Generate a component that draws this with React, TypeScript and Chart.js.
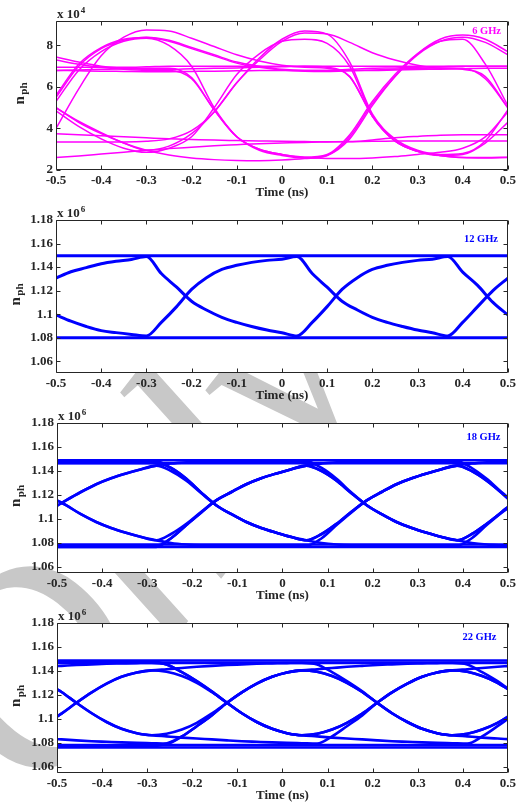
import React, { useEffect, useRef } from "react";
import { Chart, registerables } from "chart.js";

Chart.register(...registerables);

const SERIF = "'Liberation Serif', 'Times New Roman', Times, serif";
const INK = "#262626";
const MAGENTA = "#ff00ff";
const BLUE = "#0000ff";
const WATERMARK_GRAY = "#c8c8c8";
const WATERMARK_TEXT = "Only";

// ---- axes ----
const TIME_MIN = -0.5;
const TIME_MAX = 0.5;
const TIME_TICKS = [-0.5, -0.4, -0.3, -0.2, -0.1, 0, 0.1, 0.2, 0.3, 0.4, 0.5];
const NPH_TICKS_6GHZ = [2, 4, 6, 8];
const NPH_TICKS = [1.06, 1.08, 1.1, 1.12, 1.14, 1.16, 1.18];

// ---- 6 GHz eye: n_ph (x 1e4), sampled every 0.05 ns ----
const T_6 = [-0.5, -0.45, -0.4, -0.35, -0.3, -0.25, -0.2, -0.15, -0.1, -0.05, 0, 0.05, 0.1, 0.15, 0.2, 0.25, 0.3, 0.35, 0.4, 0.45, 0.5];
const N6_01 = [7.45, 7.2, 7.0, 6.9, 6.85, 6.85, 6.88, 6.9, 6.92, 6.95, 6.97, 7.0, 7.0, 7.0, 7.0, 7.0, 7.0, 7.0, 7.0, 7.0, 7.0];
const N6_02 = [7.3, 7.1, 6.95, 6.85, 6.8, 6.8, 6.4, 4.9, 3.6, 3.0, 2.75, 2.62, 2.75, 3.7, 5.3, 6.6, 7.6, 8.2, 8.3, 7.1, 5.1];
const N6_03 = [6.95, 6.95, 6.95, 6.95, 6.97, 7.0, 7.0, 7.0, 7.0, 7.0, 7.0, 7.0, 6.95, 6.5, 4.6, 3.4, 2.9, 2.7, 2.6, 2.58, 2.6];
const N6_04 = [6.8, 6.78, 6.76, 6.75, 6.74, 6.74, 6.75, 6.76, 6.78, 6.8, 6.8, 6.8, 6.8, 6.8, 6.8, 6.82, 6.84, 6.86, 6.88, 6.9, 6.9];
const N6_05 = [5.5, 7.0, 7.85, 8.25, 8.4, 8.25, 7.9, 7.55, 7.2, 7.0, 6.85, 6.8, 6.8, 6.85, 6.9, 6.92, 6.95, 6.97, 7.0, 7.0, 7.0];
const N6_06 = [5.3, 6.8, 7.7, 8.2, 8.35, 8.0, 7.0, 5.0, 3.6, 2.95, 2.7, 2.58, 2.7, 3.6, 5.2, 6.5, 7.55, 8.2, 8.4, 8.15, 7.55];
const N6_07 = [4.0, 5.9, 7.5, 8.4, 8.75, 8.7, 8.35, 7.95, 7.55, 7.25, 7.05, 6.95, 6.9, 6.5, 4.6, 3.4, 2.9, 2.7, 2.75, 3.3, 4.3];
const N6_08 = [5.0, 4.3, 3.75, 3.3, 2.95, 3.15, 3.75, 4.8, 6.2, 7.3, 8.2, 8.6, 8.55, 8.15, 7.65, 7.3, 7.05, 6.9, 6.85, 6.5, 5.0];
const N6_09 = [4.85, 4.1, 3.5, 3.05, 2.85, 3.05, 3.6, 5.0, 6.6, 7.6, 8.2, 8.3, 8.1, 7.0, 4.6, 3.4, 2.9, 2.7, 2.6, 2.6, 2.62];
const N6_10 = [5.0, 4.35, 3.8, 3.3, 2.95, 2.72, 2.58, 2.5, 2.46, 2.45, 2.48, 2.55, 2.7, 3.5, 5.1, 6.5, 7.6, 8.3, 8.5, 8.3, 7.7];
const N6_11 = [2.6, 2.68, 2.77, 2.86, 2.95, 3.03, 3.1, 3.17, 3.22, 3.27, 3.3, 3.33, 3.35, 3.37, 3.38, 3.4, 3.4, 3.4, 3.4, 3.4, 3.4];
const N6_12 = [3.75, 3.7, 3.65, 3.6, 3.55, 3.5, 3.47, 3.44, 3.42, 3.4, 3.38, 3.37, 3.36, 3.36, 3.45, 3.55, 3.62, 3.68, 3.7, 3.7, 3.7];
const N6_13 = [3.35, 3.35, 3.35, 3.35, 3.38, 3.5, 3.9, 4.8, 6.2, 7.4, 8.3, 8.7, 8.55, 7.2, 4.7, 3.5, 2.95, 2.75, 2.8, 3.4, 4.9];
const N6_14 = [5.6, 7.1, 7.9, 8.3, 8.38, 8.2, 7.85, 7.5, 7.15, 6.95, 6.82, 6.76, 6.75, 6.78, 6.82, 6.86, 6.9, 6.92, 6.9, 6.4, 5.0];
const N6_15 = [6.8, 6.82, 6.85, 6.88, 6.9, 6.9, 6.45, 4.9, 3.6, 3.0, 2.75, 2.62, 2.56, 2.55, 2.58, 2.65, 2.75, 2.85, 3.05, 3.6, 4.8];

// ---- 12 GHz eye: n_ph (x 1e6) ----
const T_12 = [-0.5, -0.467, -0.433, -0.4, -0.367, -0.333, -0.3, -0.267, -0.233, -0.2, -0.167, -0.133, -0.1, -0.067, -0.033, 0, 0.033, 0.067, 0.1, 0.133, 0.167, 0.2, 0.233, 0.267, 0.3, 0.333, 0.367, 0.4, 0.433, 0.467, 0.5];
const N12_A = [1.1306, 1.136, 1.1395, 1.1429, 1.145, 1.1465, 1.149, 1.1345, 1.1229, 1.111, 1.1035, 1.0973, 1.093, 1.0895, 1.0865, 1.0842, 1.0815, 1.093, 1.1064, 1.121, 1.131, 1.138, 1.1415, 1.144, 1.1457, 1.1467, 1.149, 1.1357, 1.1244, 1.11, 1.0993];
const N12_B = [1.0993, 1.094, 1.0895, 1.086, 1.0843, 1.0828, 1.0815, 1.093, 1.1064, 1.121, 1.131, 1.138, 1.1415, 1.144, 1.1457, 1.1467, 1.149, 1.1345, 1.1229, 1.111, 1.1035, 1.0973, 1.093, 1.0895, 1.0865, 1.0842, 1.0815, 1.093, 1.1064, 1.12, 1.1306];
const LEVELS_12 = [1.1497, 1.08];

// ---- 18 GHz eye: n_ph (x 1e6) ----
const T_18 = [-0.5, -0.48, -0.447, -0.413, -0.38, -0.347, -0.313, -0.28, -0.247, -0.213, -0.18, -0.147, -0.113, -0.08, -0.047, -0.013, 0.02, 0.053, 0.087, 0.12, 0.153, 0.187, 0.22, 0.253, 0.287, 0.32, 0.353, 0.387, 0.42, 0.453, 0.487, 0.5];
const N18_1 = [1.111, 1.1155, 1.1225, 1.129, 1.134, 1.138, 1.1415, 1.1445, 1.14, 1.132, 1.1215, 1.1115, 1.104, 1.0975, 1.0925, 1.0885, 1.085, 1.0823, 1.0875, 1.096, 1.106, 1.1155, 1.1225, 1.129, 1.134, 1.138, 1.1415, 1.1445, 1.14, 1.132, 1.1215, 1.117];
const N18_2 = [1.1155, 1.1115, 1.104, 1.0975, 1.0925, 1.0885, 1.085, 1.0823, 1.0875, 1.096, 1.106, 1.1155, 1.1225, 1.129, 1.134, 1.138, 1.1415, 1.1445, 1.14, 1.132, 1.1215, 1.1115, 1.104, 1.0975, 1.0925, 1.0885, 1.085, 1.0823, 1.0875, 1.096, 1.106, 1.11];
const N18_3 = [1.148, 1.148, 1.148, 1.148, 1.148, 1.148, 1.148, 1.148, 1.1425, 1.1335, 1.122, 1.1115, 1.104, 1.0975, 1.0925, 1.0885, 1.085, 1.0823, 1.08, 1.0787, 1.078, 1.0778, 1.0778, 1.0778, 1.0778, 1.0778, 1.0778, 1.0778, 1.084, 1.095, 1.1055, 1.109];
const N18_4 = [1.0775, 1.0775, 1.0775, 1.0775, 1.0775, 1.0775, 1.0775, 1.0775, 1.084, 1.095, 1.1055, 1.1155, 1.1225, 1.129, 1.134, 1.138, 1.1415, 1.1445, 1.1462, 1.1472, 1.1478, 1.148, 1.148, 1.148, 1.148, 1.148, 1.148, 1.148, 1.1425, 1.1335, 1.122, 1.118];
const N18_5 = [1.111, 1.1155, 1.1225, 1.129, 1.134, 1.138, 1.1415, 1.1445, 1.1462, 1.1472, 1.1478, 1.148, 1.148, 1.148, 1.148, 1.148, 1.148, 1.148, 1.1425, 1.1335, 1.122, 1.1115, 1.104, 1.0975, 1.0925, 1.0885, 1.085, 1.0823, 1.0875, 1.096, 1.106, 1.11];
const N18_6 = [1.1155, 1.1115, 1.104, 1.0975, 1.0925, 1.0885, 1.085, 1.0823, 1.08, 1.0787, 1.078, 1.0778, 1.0778, 1.0778, 1.0778, 1.0778, 1.0778, 1.0778, 1.084, 1.095, 1.1055, 1.1155, 1.1225, 1.129, 1.134, 1.138, 1.1415, 1.1445, 1.14, 1.132, 1.1215, 1.117];
const N18_7 = [1.1468, 1.1468, 1.1468, 1.1468, 1.1468, 1.1468, 1.1468, 1.1468, 1.1425, 1.1335, 1.122, 1.1115, 1.104, 1.0975, 1.0925, 1.0885, 1.085, 1.0823, 1.0875, 1.096, 1.106, 1.1155, 1.1225, 1.129, 1.134, 1.138, 1.1415, 1.1445, 1.1462, 1.1472, 1.1478, 1.148];
const N18_8 = [1.0768, 1.0768, 1.0768, 1.0768, 1.0768, 1.0768, 1.0768, 1.0768, 1.084, 1.095, 1.1055, 1.1155, 1.1225, 1.129, 1.134, 1.138, 1.1415, 1.1445, 1.14, 1.132, 1.1215, 1.1115, 1.104, 1.0975, 1.0925, 1.0885, 1.085, 1.0823, 1.08, 1.0787, 1.078, 1.0778];
const LEVELS_18 = [1.149, 1.1465, 1.0787, 1.0767];

// ---- 22 GHz eye: n_ph (x 1e6) ----
const T_22 = [-0.5, -0.49, -0.457, -0.423, -0.39, -0.357, -0.323, -0.29, -0.257, -0.223, -0.19, -0.157, -0.123, -0.09, -0.057, -0.023, 0.01, 0.043, 0.077, 0.11, 0.143, 0.177, 0.21, 0.243, 0.277, 0.31, 0.343, 0.377, 0.41, 0.443, 0.477, 0.5];
const N22_1 = [1.102, 1.1045, 1.1135, 1.1222, 1.1295, 1.1352, 1.1388, 1.1405, 1.1393, 1.1358, 1.1302, 1.1225, 1.1135, 1.1048, 1.0975, 1.0918, 1.0882, 1.0865, 1.0877, 1.0912, 1.0968, 1.1045, 1.1135, 1.1222, 1.1295, 1.1352, 1.1388, 1.1405, 1.1393, 1.1358, 1.1302, 1.1248];
const N22_2 = [1.1248, 1.1225, 1.1135, 1.1048, 1.0975, 1.0918, 1.0882, 1.0865, 1.0877, 1.0912, 1.0968, 1.1045, 1.1135, 1.1222, 1.1295, 1.1352, 1.1388, 1.1405, 1.1393, 1.1358, 1.1302, 1.1225, 1.1135, 1.1048, 1.0975, 1.0918, 1.0882, 1.0865, 1.0877, 1.0912, 1.0968, 1.102];
const N22_3 = [1.1478, 1.1478, 1.1478, 1.1478, 1.1478, 1.1478, 1.1478, 1.1478, 1.1455, 1.139, 1.1315, 1.123, 1.1135, 1.1048, 1.0975, 1.0918, 1.0882, 1.0865, 1.0855, 1.0845, 1.0837, 1.083, 1.0822, 1.0815, 1.081, 1.0805, 1.0801, 1.0798, 1.0795, 1.0855, 1.094, 1.1];
const N22_4 = [1.0772, 1.0772, 1.0772, 1.0772, 1.0772, 1.0772, 1.0772, 1.0772, 1.0795, 1.0855, 1.094, 1.103, 1.1135, 1.1222, 1.1295, 1.1352, 1.1388, 1.1405, 1.1415, 1.1425, 1.1435, 1.1443, 1.145, 1.1455, 1.146, 1.1463, 1.1466, 1.1468, 1.1455, 1.139, 1.1315, 1.1255];
const N22_5 = [1.102, 1.1045, 1.1135, 1.1222, 1.1295, 1.1352, 1.1388, 1.1405, 1.1415, 1.1425, 1.1435, 1.1443, 1.145, 1.1455, 1.146, 1.1463, 1.1466, 1.1468, 1.1455, 1.139, 1.1315, 1.123, 1.1135, 1.1048, 1.0975, 1.0918, 1.0882, 1.0865, 1.0877, 1.0912, 1.0968, 1.102];
const N22_6 = [1.1248, 1.1225, 1.1135, 1.1048, 1.0975, 1.0918, 1.0882, 1.0865, 1.0855, 1.0845, 1.0837, 1.083, 1.0822, 1.0815, 1.081, 1.0805, 1.0801, 1.0798, 1.0795, 1.0855, 1.094, 1.103, 1.1135, 1.1222, 1.1295, 1.1352, 1.1388, 1.1405, 1.1393, 1.1358, 1.1302, 1.1248];
const N22_7 = [1.1441, 1.1443, 1.145, 1.1455, 1.146, 1.1463, 1.1466, 1.1468, 1.1455, 1.139, 1.1315, 1.123, 1.1135, 1.1048, 1.0975, 1.0918, 1.0882, 1.0865, 1.0877, 1.0912, 1.0968, 1.1045, 1.1135, 1.1222, 1.1295, 1.1352, 1.1388, 1.1405, 1.1415, 1.1425, 1.1435, 1.1441];
const N22_8 = [1.0832, 1.083, 1.0822, 1.0815, 1.081, 1.0805, 1.0801, 1.0798, 1.0795, 1.0855, 1.094, 1.103, 1.1135, 1.1222, 1.1295, 1.1352, 1.1388, 1.1405, 1.1393, 1.1358, 1.1302, 1.1225, 1.1135, 1.1048, 1.0975, 1.0918, 1.0882, 1.0865, 1.0855, 1.0845, 1.0837, 1.0832];
const LEVELS_22 = [1.1488, 1.1468, 1.0782, 1.0762];

interface PanelSpec {
  key: string;
  top: number;
  height: number;
  padTop: number;
  axisWidth: number;
  yMin: number;
  yMax: number;
  yTicks: number[];
  exponent: string;
  tag: string;
  tagX: number;
  tagY: number;
  labelX: number;
  color: string;
  lineWidth: number;
  time: number[];
  traces: number[][];
  levels: number[];
}

const PANELS: PanelSpec[] = [
  {
    key: "6", top: 0, height: 200, padTop: 21, axisWidth: 56,
    yMin: 2, yMax: 9.18, yTicks: NPH_TICKS_6GHZ, exponent: "4",
    tag: "6 GHz", tagX: 501, tagY: 34, labelX: 23.5,
    color: MAGENTA, lineWidth: 1.5, time: T_6,
    traces: [N6_01, N6_02, N6_03, N6_04, N6_05, N6_06, N6_07, N6_08, N6_09, N6_10, N6_11, N6_12, N6_13, N6_14, N6_15],
    levels: [],
  },
  {
    key: "12", top: 200, height: 203, padTop: 20, axisWidth: 56,
    yMin: 1.05, yMax: 1.18, yTicks: NPH_TICKS, exponent: "6",
    tag: "12 GHz", tagX: 498, tagY: 41.5, labelX: 19.5,
    color: BLUE, lineWidth: 3, time: T_12,
    traces: [N12_A, N12_B], levels: LEVELS_12,
  },
  {
    key: "18", top: 403, height: 200, padTop: 20, axisWidth: 57,
    yMin: 1.055, yMax: 1.18, yTicks: NPH_TICKS, exponent: "6",
    tag: "18 GHz", tagX: 500.5, tagY: 37, labelX: 20,
    color: BLUE, lineWidth: 2.6, time: T_18,
    traces: [N18_1, N18_2, N18_3, N18_4, N18_5, N18_6, N18_7, N18_8], levels: LEVELS_18,
  },
  {
    key: "22", top: 603, height: 200, padTop: 20, axisWidth: 57,
    yMin: 1.055, yMax: 1.18, yTicks: NPH_TICKS, exponent: "6",
    tag: "22 GHz", tagX: 496.5, tagY: 36.5, labelX: 20,
    color: BLUE, lineWidth: 2.6, time: T_22,
    traces: [N22_1, N22_2, N22_3, N22_4, N22_5, N22_6, N22_7, N22_8], levels: LEVELS_22,
  },
];

const font = (size: number) => `bold ${size}px ${SERIF}`;

function framePlugin(spec: PanelSpec) {
  return {
    id: "frame" + spec.key,
    beforeDraw(chart: any) {
      const { ctx, chartArea: a } = chart;
      ctx.save();
      ctx.fillStyle = "#ffffff";
      ctx.fillRect(a.left, a.top, a.right - a.left, a.bottom - a.top);
      ctx.restore();
    },
    afterDatasetsDraw(chart: any) {
      const { ctx, chartArea: a, scales } = chart;
      const L = Math.round(a.left) + 0.5;
      const R = Math.round(a.right) - 0.5;
      const T = Math.round(a.top) + 0.5;
      const B = Math.round(a.bottom) - 0.5;
      const tick = 4;
      ctx.save();
      ctx.strokeStyle = INK;
      ctx.lineWidth = 1;
      ctx.beginPath();
      ctx.rect(L, T, R - L, B - T);
      for (const v of TIME_TICKS) {
        const x = Math.round(scales.x.getPixelForValue(v)) + 0.5;
        ctx.moveTo(x, B);
        ctx.lineTo(x, B - tick);
        ctx.moveTo(x, T);
        ctx.lineTo(x, T + tick);
      }
      for (const v of spec.yTicks) {
        const y = Math.round(scales.y.getPixelForValue(v)) + 0.5;
        ctx.moveTo(L, y);
        ctx.lineTo(L + tick, y);
        ctx.moveTo(R, y);
        ctx.lineTo(R - tick, y);
      }
      ctx.stroke();
      ctx.restore();
    },
    afterDraw(chart: any) {
      const { ctx, chartArea: a } = chart;
      ctx.save();
      ctx.fillStyle = INK;
      ctx.textAlign = "left";
      ctx.textBaseline = "alphabetic";

      // scale factor above the axes
      ctx.font = font(13);
      const base = "x 10";
      ctx.fillText(base, a.left + 1, a.top - 3.5);
      const bw = ctx.measureText(base).width;
      ctx.font = font(9);
      ctx.fillText(spec.exponent, a.left + 1 + bw + 1, a.top - 8);

      // rotated y label n_ph
      ctx.translate(spec.labelX, (a.top + a.bottom) / 2 - 2);
      ctx.rotate(-Math.PI / 2);
      ctx.font = font(15);
      const wn = ctx.measureText("n").width;
      ctx.font = font(11);
      const wp = ctx.measureText("ph").width;
      const start = -(wn + 1.5 + wp) / 2;
      ctx.font = font(15);
      ctx.fillText("n", start, 0);
      ctx.font = font(11);
      ctx.fillText("ph", start + wn + 1.5, 3.5);
      ctx.restore();

      // frequency tag
      ctx.save();
      ctx.font = font(10.5);
      ctx.fillStyle = spec.color;
      ctx.textAlign = "right";
      ctx.textBaseline = "alphabetic";
      ctx.fillText(spec.tag, spec.tagX, spec.tagY);
      ctx.restore();
    },
  };
}

function EyePanel({ spec }: { spec: PanelSpec }) {
  const ref = useRef<HTMLCanvasElement>(null);

  useEffect(() => {
    const canvas = ref.current;
    if (!canvas) return;
    const levelSets = spec.levels.map((v) => ({
      data: [
        { x: TIME_MIN, y: v },
        { x: TIME_MAX, y: v },
      ],
    }));
    const traceSets = spec.traces.map((tr) => ({
      data: tr.map((y, i) => ({ x: spec.time[i], y })),
    }));
    const datasets = [...levelSets, ...traceSets].map((d) => ({
      ...d,
      borderColor: spec.color,
      backgroundColor: spec.color,
      borderWidth: spec.lineWidth,
      pointRadius: 0,
      fill: false,
      cubicInterpolationMode: "monotone" as const,
      borderJoinStyle: "round" as const,
      borderCapStyle: "round" as const,
    }));
    const tickFont = { family: SERIF, size: 13, weight: "bold" as const };

    const chart = new Chart(canvas, {
      type: "line",
      data: { datasets },
      options: {
        responsive: false,
        animation: false,
        events: [],
        layout: { padding: { left: 0, right: 10, top: spec.padTop, bottom: 0 } },
        plugins: { legend: { display: false }, tooltip: { enabled: false } },
        scales: {
          x: {
            type: "linear",
            min: TIME_MIN,
            max: TIME_MAX,
            afterBuildTicks: (s: any) => {
              s.ticks = TIME_TICKS.map((value) => ({ value }));
            },
            afterFit: (s: any) => {
              s.height = 30;
            },
            grid: { display: false, drawTicks: false },
            border: { display: false },
            ticks: {
              autoSkip: false,
              maxRotation: 0,
              padding: 3,
              color: INK,
              font: tickFont,
              callback: (v: any) => String(Math.round(Number(v) * 10) / 10),
            },
            title: {
              display: true,
              text: "Time (ns)",
              color: INK,
              font: tickFont,
              padding: 0,
            },
          },
          y: {
            type: "linear",
            min: spec.yMin,
            max: spec.yMax,
            afterBuildTicks: (s: any) => {
              s.ticks = spec.yTicks.map((value) => ({ value }));
            },
            afterFit: (s: any) => {
              s.width = spec.axisWidth;
            },
            grid: { display: false, drawTicks: false },
            border: { display: false },
            ticks: {
              autoSkip: false,
              padding: 3,
              color: INK,
              font: tickFont,
              callback: (v: any) => String(Math.round(Number(v) * 100) / 100),
            },
          },
        },
      } as any,
      plugins: [framePlugin(spec)],
    });
    return () => chart.destroy();
  }, [spec]);

  return (
    <canvas
      ref={ref}
      width={519}
      height={spec.height}
      style={{ position: "absolute", left: 0, top: spec.top, width: 519, height: spec.height }}
    />
  );
}

// light diagonal page stamp, visible only around the axes boxes
function Watermark() {
  const ref = useRef<HTMLCanvasElement>(null);
  useEffect(() => {
    const canvas = ref.current;
    if (!canvas) return;
    const ctx = canvas.getContext("2d");
    if (!ctx) return;
    ctx.clearRect(0, 0, canvas.width, canvas.height);
    ctx.save();
    ctx.fillStyle = WATERMARK_GRAY;
    ctx.font = `italic 280px ${SERIF}`;
    ctx.textBaseline = "alphabetic";
    ctx.translate(43.6, 806);
    ctx.rotate((-52 * Math.PI) / 180);
    ctx.fillText(WATERMARK_TEXT, 0, 0);
    ctx.restore();
  }, []);
  return (
    <canvas
      ref={ref}
      width={519}
      height={803}
      style={{ position: "absolute", left: 0, top: 0, width: 519, height: 803 }}
    />
  );
}

export default function App() {
  return (
    <div style={{ position: "absolute", left: 0, top: 0, width: 519, height: 803, background: "#ffffff", overflow: "hidden" }}>
      <Watermark />
      {PANELS.map((p) => (
        <EyePanel key={p.key} spec={p} />
      ))}
    </div>
  );
}
